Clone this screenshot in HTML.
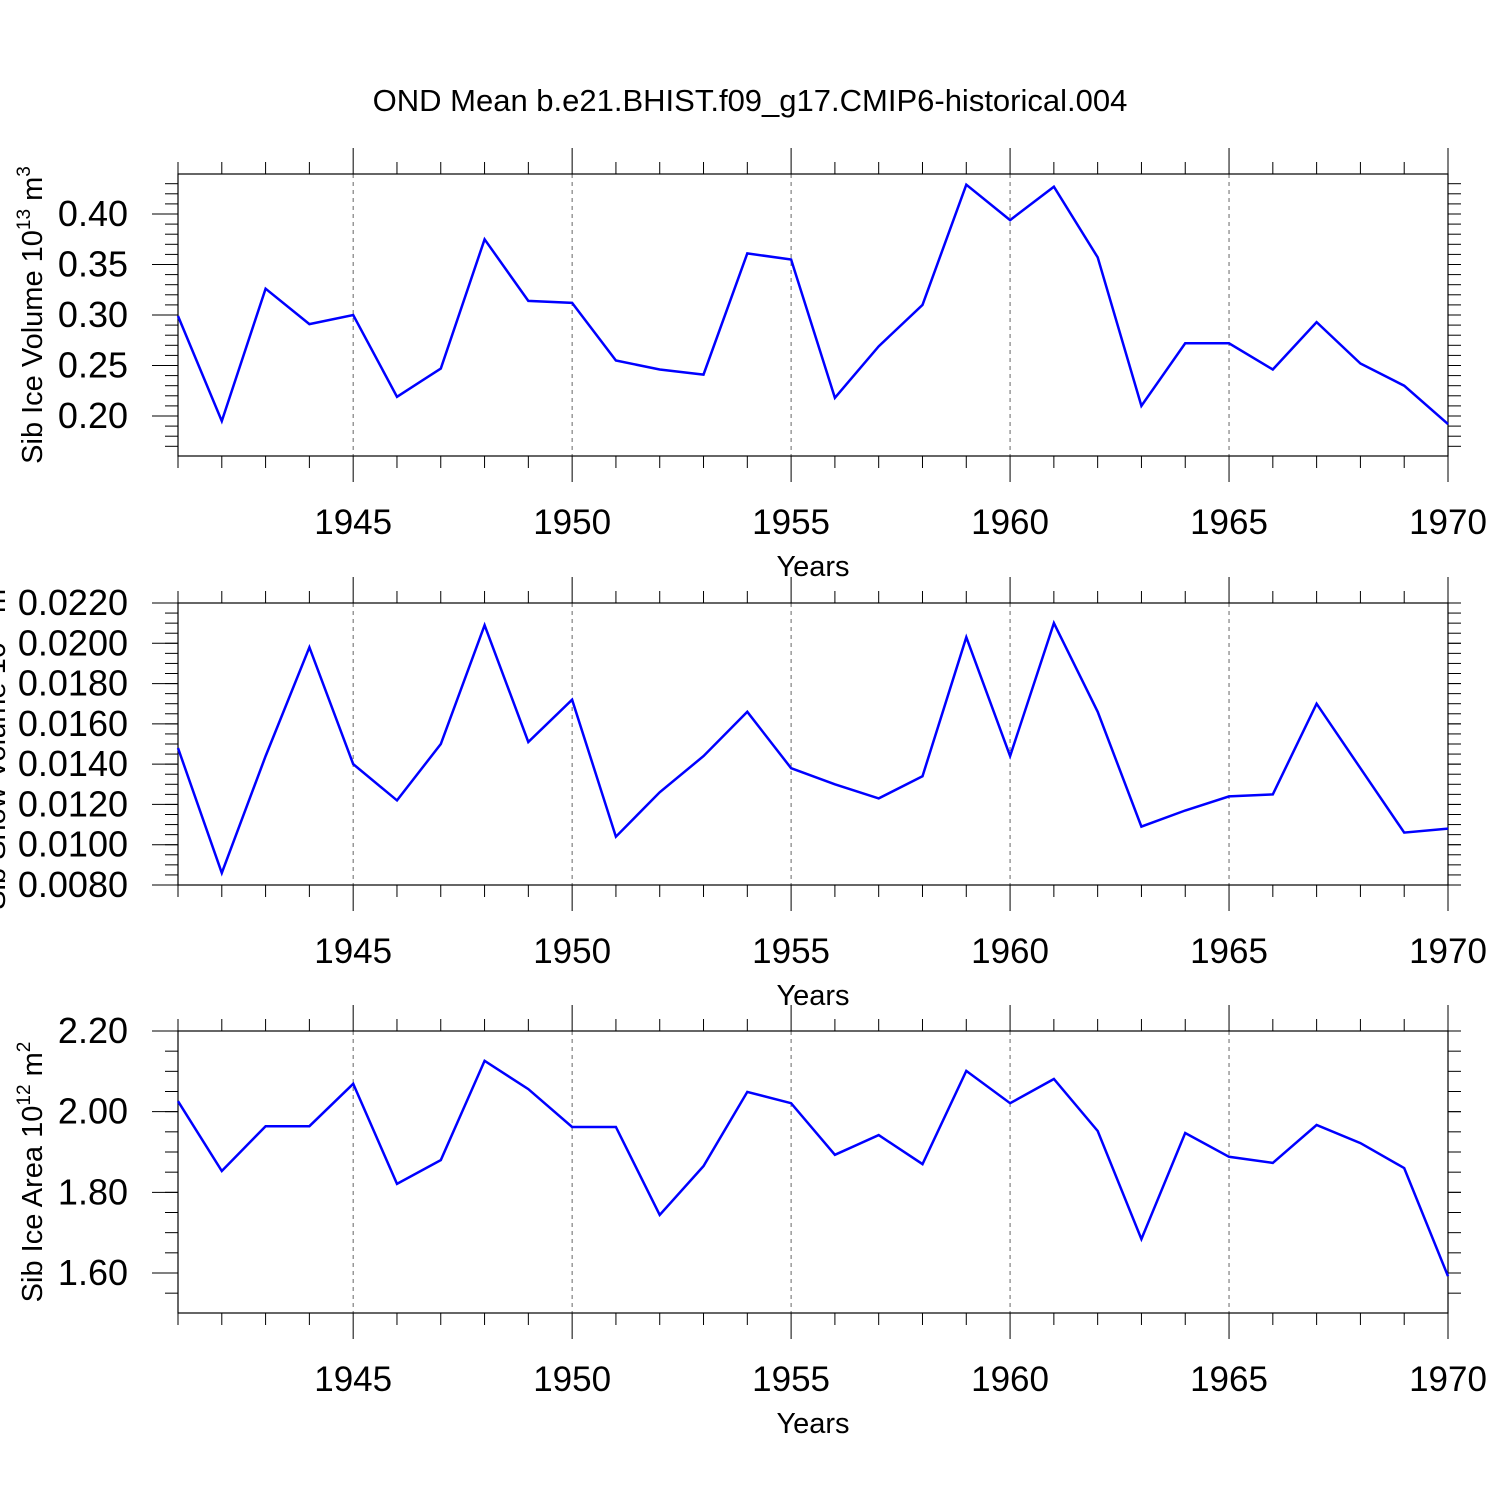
<!DOCTYPE html>
<html><head><meta charset="utf-8"><style>
html,body{margin:0;padding:0;background:#fff;width:1500px;height:1500px;overflow:hidden}
svg{display:block;font-family:"Liberation Sans",sans-serif}
</style></head><body>
<svg id="chart" width="1500" height="1500" xmlns="http://www.w3.org/2000/svg">
<text x="750" y="111" text-anchor="middle" font-size="31">OND Mean b.e21.BHIST.f09_g17.CMIP6-historical.004</text>
</svg>
<script>
const years = [1941,1942,1943,1944,1945,1946,1947,1948,1949,1950,1951,1952,1953,1954,1955,1956,1957,1958,1959,1960,1961,1962,1963,1964,1965,1966,1967,1968,1969,1970];
const iceVolume = [0.299,0.195,0.326,0.291,0.300,0.219,0.247,0.375,0.314,0.312,0.255,0.246,0.241,0.361,0.355,0.218,0.269,0.310,0.429,0.394,0.427,0.357,0.210,0.272,0.272,0.246,0.293,0.252,0.230,0.192];
const snowVolume = [0.0148,0.0086,0.0144,0.0198,0.0140,0.0122,0.0150,0.0209,0.0151,0.0172,0.0104,0.0126,0.0144,0.0166,0.0138,0.0130,0.0123,0.0134,0.0203,0.0144,0.0210,0.0166,0.0109,0.0117,0.0124,0.0125,0.0170,0.0138,0.0106,0.0108];
const iceArea = [2.026,1.853,1.964,1.964,2.069,1.821,1.880,2.126,2.056,1.962,1.962,1.744,1.865,2.049,2.021,1.893,1.942,1.870,2.101,2.021,2.081,1.952,1.684,1.947,1.888,1.873,1.967,1.922,1.860,1.592];
const xTickLabels = ["1945","1950","1955","1960","1965","1970"];
const iceVolTicks = ["0.20","0.25","0.30","0.35","0.40"];
const snowTicks = ["0.0080","0.0100","0.0120","0.0140","0.0160","0.0180","0.0200","0.0220"];
const areaTicks = ["1.60","1.80","2.00","2.20"];

const svg = document.getElementById('chart');
const NS = 'http://www.w3.org/2000/svg';
const X0=178, X1=1448, YR0=1941, YR1=1970;
function xs(v){return X0+(v-YR0)/(YR1-YR0)*(X1-X0);}
function mk(tag, attrs, parent){const e=document.createElementNS(NS,tag);for(const k in attrs)e.setAttribute(k,attrs[k]);(parent||svg).appendChild(e);return e;}

const panels = [
 {name:'ice-volume', top:174, bot:456, ymin:0.20-40/1010, ymax:0.40+40/1010, ticks:iceVolTicks, minor:0.01, data:iceVolume, label:'Sib Ice Volume 10', sup:'13', unit:' m', usup:'3', lx:33},
 {name:'snow-volume', top:603, bot:885, ymin:0.0080, ymax:0.0220, ticks:snowTicks, minor:0.0005, data:snowVolume, label:'Sib Snow Volume 10', sup:'13', unit:' m', usup:'3', lx:-4},
 {name:'ice-area', top:1031, bot:1313, ymin:1.60-40/403.3, ymax:2.20, ticks:areaTicks, minor:0.05, data:iceArea, label:'Sib Ice Area 10', sup:'12', unit:' m', usup:'2', lx:33}
];
panels.forEach(p=>{
  const g = mk('g',{});
  
  
  const ys = v => p.bot-(v-p.ymin)/(p.ymax-p.ymin)*(p.bot-p.top);
  for(let y=1945;y<=1965;y+=5){
    const l=mk('line',{x1:xs(y),x2:xs(y),y1:p.top,y2:p.bot,stroke:'#666','stroke-width':1,'stroke-dasharray':'4,4'},g);
    
    
  }
  for(let y=YR0;y<=YR1;y++){
    const maj = y%5===0;
    mk('line',{x1:xs(y),x2:xs(y),y1:p.top-(maj?26:12),y2:p.top,stroke:'#000','stroke-width':1},g);
    mk('line',{x1:xs(y),x2:xs(y),y1:p.bot,y2:p.bot+(maj?26:12),stroke:'#000','stroke-width':1},g);
  }
  xTickLabels.forEach(t=>{
    const tx=mk('text',{x:xs(+t),y:p.bot+78,'text-anchor':'middle','font-size':35},g);
    tx.textContent=t;
    
    
  });
  const xt=mk('text',{x:813,y:p.bot+120,'text-anchor':'middle','font-size':29},g);
  xt.textContent='Years';
  
  
  const start=Math.ceil(p.ymin/p.minor-1e-6);
  for(let i=start;i*p.minor<=p.ymax+1e-9;i++){
    const y=ys(i*p.minor);
    mk('line',{x1:X0-13,x2:X0,y1:y,y2:y,stroke:'#000','stroke-width':1},g);
    mk('line',{x1:X1,x2:X1+13,y1:y,y2:y,stroke:'#000','stroke-width':1},g);
  }
  p.ticks.forEach(t=>{
    const y=ys(+t);
    mk('line',{x1:X0-26,x2:X0,y1:y,y2:y,stroke:'#000','stroke-width':1},g);
    mk('line',{x1:X1,x2:X1+13,y1:y,y2:y,stroke:'#000','stroke-width':1},g);
    const tx=mk('text',{x:X0-50,y:y+12,'text-anchor':'end','font-size':36},g);
    tx.textContent=t;
    
    
  });
  mk('rect',{x:X0,y:p.top,width:X1-X0,height:p.bot-p.top,fill:'none',stroke:'#000','stroke-width':1.2},g);
  const cy=(p.top+p.bot)/2;
  const yt=mk('text',{x:0,y:0,'text-anchor':'middle','font-size':29,transform:`translate(${p.lx+9},${cy}) rotate(-90)`},g);
  
  
  yt.innerHTML=`${p.label}<tspan font-size="19" dy="-12">${p.sup}</tspan><tspan dy="12">${p.unit}</tspan><tspan font-size="19" dy="-12">${p.usup}</tspan>`;
  const pts=p.data.map((v,i)=>xs(years[i]).toFixed(1)+','+ys(v).toFixed(1)).join(' ');
  const pl=mk('polyline',{points:pts,fill:'none',stroke:'#0000ff','stroke-width':2.5,'stroke-linejoin':'miter'},g);
  
  
});
</script>
</body></html>
